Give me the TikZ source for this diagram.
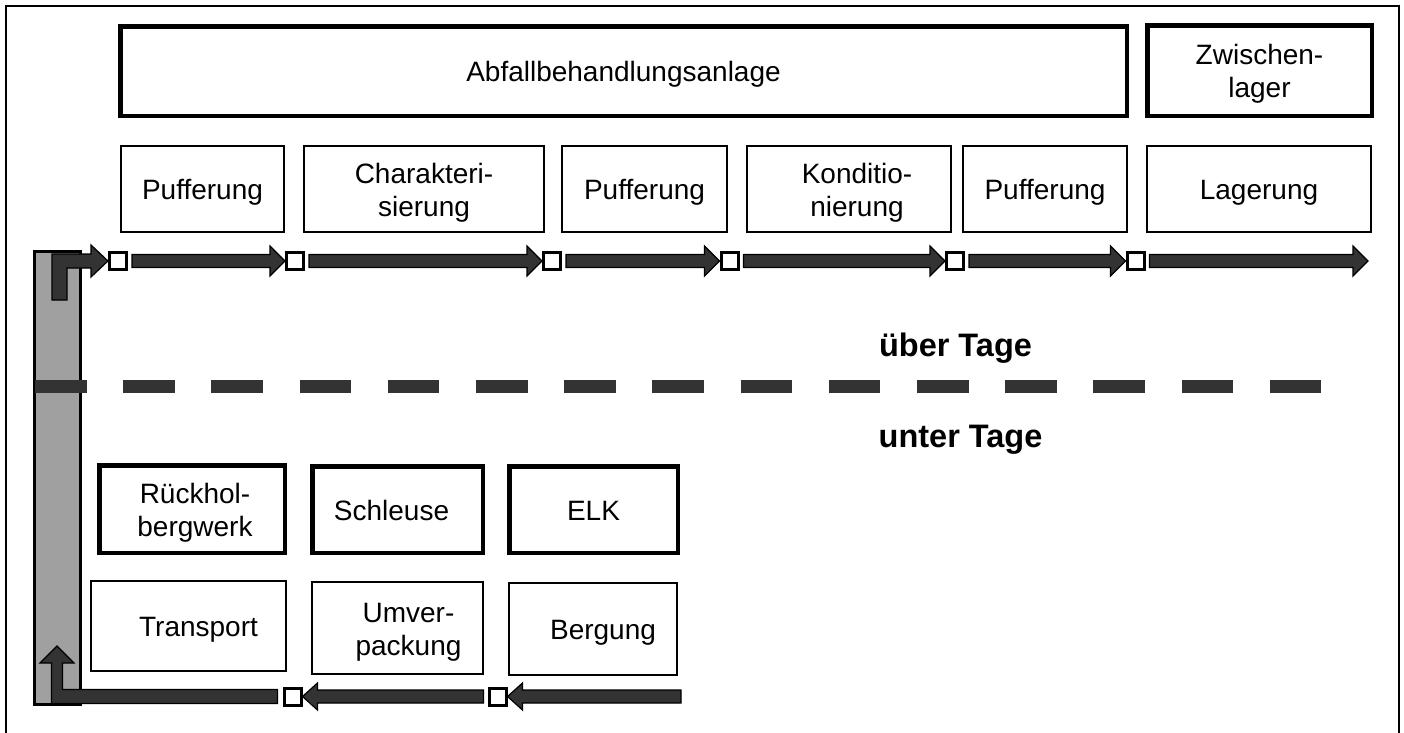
\documentclass[tikz,border=0pt]{standalone}
\usepackage{fontspec}
\setmainfont{Liberation Sans}
\usetikzlibrary{calc}
\definecolor{darkfill}{HTML}{333333}
\definecolor{barfill}{HTML}{A0A0A0}
\newcommand\st{\rule[-5pt]{0pt}{32pt}}
\tikzset{
  arrbox/.style={fill=darkfill, draw=black, line width=1.2pt, line join=miter},
  sqbox/.style={draw=black, fill=white, line width=3pt, minimum size=17pt, inner sep=0pt},
  thickbox/.style={draw=black, line width=4.5pt, inner sep=0pt},
  thinbox/.style={draw=black, line width=1.6pt, inner sep=0pt},
  lbl/.style={font=\fontsize{28}{33}\selectfont, align=center, inner sep=0pt},
  boldlbl/.style={font=\fontsize{32.5}{36}\selectfont\bfseries, anchor=base, inner sep=0pt},
  dashline/.style={draw=darkfill, line width=13pt, dash pattern=on 51.5pt off 36.7pt, line cap=butt},
  barbox/.style={draw=black, fill=barfill, line width=3pt, inner sep=0pt},
}
% box: name, x1, y1, x2, y2, style, text dx, text
\newcommand\bx[8]{\node[#6, minimum width={(#4-#2)*1pt}, minimum height={(#5-#3)*1pt},
  label={[lbl, xshift=#7pt]center:{#8}}] (#1) at ({(#2+#4)/2},{(#3+#5)/2}) {};}
% right-pointing block arrow from #1 to tip #2
\newcommand\rarr[2]{%
  \filldraw[arrbox] let \p1=(#1), \p2=(#2) in
  (\x1,\y1+6.5pt) -- (\x2-15pt,\y1+6.5pt) -- (\x2-15pt,\y1+15pt) -- (\x2,\y1)
  -- (\x2-15pt,\y1-15pt) -- (\x2-15pt,\y1-6.5pt) -- (\x1,\y1-6.5pt) -- cycle;}
% left-pointing block arrow from #1 to tip #2
\newcommand\larr[2]{%
  \filldraw[arrbox] let \p1=(#1), \p2=(#2) in
  (\x1,\y1+6.5pt) -- (\x2+15pt,\y1+6.5pt) -- (\x2+15pt,\y1+13.5pt) -- (\x2,\y1)
  -- (\x2+15pt,\y1-13.5pt) -- (\x2+15pt,\y1-6.5pt) -- (\x1,\y1-6.5pt) -- cycle;}
\begin{document}
\begin{tikzpicture}[x=1pt, y=-1pt]
\useasboundingbox (0,0) rectangle (1404,732);
\fill[white] (0,0) rectangle (1404,732);
% outer frame
\draw[line width=1.5pt] (6,740) -- (6,6) -- (1399,6) -- (1399,740);

% top thick boxes
\bx{abf}{120.25}{26.25}{1126.75}{115.75}{thickbox}{0}{\st Abfallbehandlungsanlage}
\bx{zw}{1147.25}{25.25}{1371.75}{115.75}{thickbox}{0}{\st Zwischen-\\\st lager}
% second row
\bx{pf1}{120.8}{145.8}{284.2}{232.2}{thinbox}{0}{\st Pufferung}
\bx{ch}{303.8}{145.8}{544.2}{232.2}{thinbox}{0}{\st Charakteri-\\\st sierung}
\bx{pf2}{561.8}{145.8}{727.2}{232.2}{thinbox}{0}{\st Pufferung}
\bx{ko}{746.8}{145.8}{951.2}{232.2}{thinbox}{8}{\st Konditio-\\\st nierung}
\bx{pf3}{962.8}{145.8}{1127.2}{232.2}{thinbox}{0}{\st Pufferung}
\bx{lg}{1146.8}{145.8}{1371.2}{232.2}{thinbox}{0}{\st Lagerung}
% bottom thick boxes
\bx{rh}{99.25}{465.25}{284.75}{552.75}{thickbox}{3}{\st Rückhol-\\\st bergwerk}
\bx{sch}{312.25}{466.25}{482.75}{552.75}{thickbox}{-6}{\st Schleuse}
\bx{elk}{509.25}{466.25}{677.75}{552.75}{thickbox}{0}{\st ELK}
% bottom thin boxes
\bx{tr}{90.8}{580.8}{286.2}{671.2}{thinbox}{10}{\st Transport}
\bx{uv}{311.8}{581.8}{483.2}{674.2}{thinbox}{11}{\st Umver-\\\st packung}
\bx{bg}{508.8}{582.8}{677.2}{675.2}{thinbox}{10}{\st Bergung}

% grey shaft bar
\node[barbox, minimum width=46pt, minimum height=453pt] (bar) at (57.5,478) {};

% dashed surface line
\coordinate (dashA) at (35,386.5);
\coordinate (dashB) at (1321.3,386.5);
\draw[dashline] (dashA) -- (dashB);

% labels
\node[boldlbl] (ueber) at (955.5,356) {über Tage};
\node[boldlbl] (unter) at (960.5,447) {unter Tage};

% top squares
\node[sqbox] (q1) at (118,261) {};
\node[sqbox] (q2) at (295,261) {};
\node[sqbox] (q3) at (552,261) {};
\node[sqbox] (q4) at (729.5,261) {};
\node[sqbox] (q5) at (955,261) {};
\node[sqbox] (q6) at (1135.5,261) {};
\coordinate (endA) at (1368,261);

% top L arrow out of the shaft
\filldraw[arrbox] let \p1=(q1.west) in
  (52,300) -- (67,300) -- (67,268) -- (\x1-17pt,\y1-7pt) -- (\x1-17pt,\y1-16pt) -- (\x1,\y1)
  -- (\x1-17pt,\y1+16pt) -- (\x1-17pt,\y1+7pt) -- (52,254) -- cycle;

\rarr{$(q1.east)+(4,0)$}{q2.west}
\rarr{$(q2.east)+(4,0)$}{q3.west}
\rarr{$(q3.east)+(4,0)$}{q4.west}
\rarr{$(q4.east)+(4,0)$}{q5.west}
\rarr{$(q5.east)+(4,0)$}{q6.west}
\rarr{$(q6.east)+(4,0)$}{endA}

% bottom squares
\node[sqbox] (p1) at (292.5,696.5) {};
\node[sqbox] (p2) at (497.5,696.5) {};
\coordinate (startB) at (681,696.5);

\larr{startB}{p2.east}
\larr{$(p2.west)+(-4,0)$}{p1.east}

% bottom L arrow into the shaft
\filldraw[arrbox] let \p1=($(p1.west)+(-5,0)$) in
  (\x1,\y1+7pt) -- (62.5,689.5) -- (62.5,663) -- (74,663) -- (57,646) -- (40,663)
  -- (51.5,663) -- (51.5,703.5) -- (\x1,\y1-7pt) -- cycle;
\end{tikzpicture}
\end{document}
